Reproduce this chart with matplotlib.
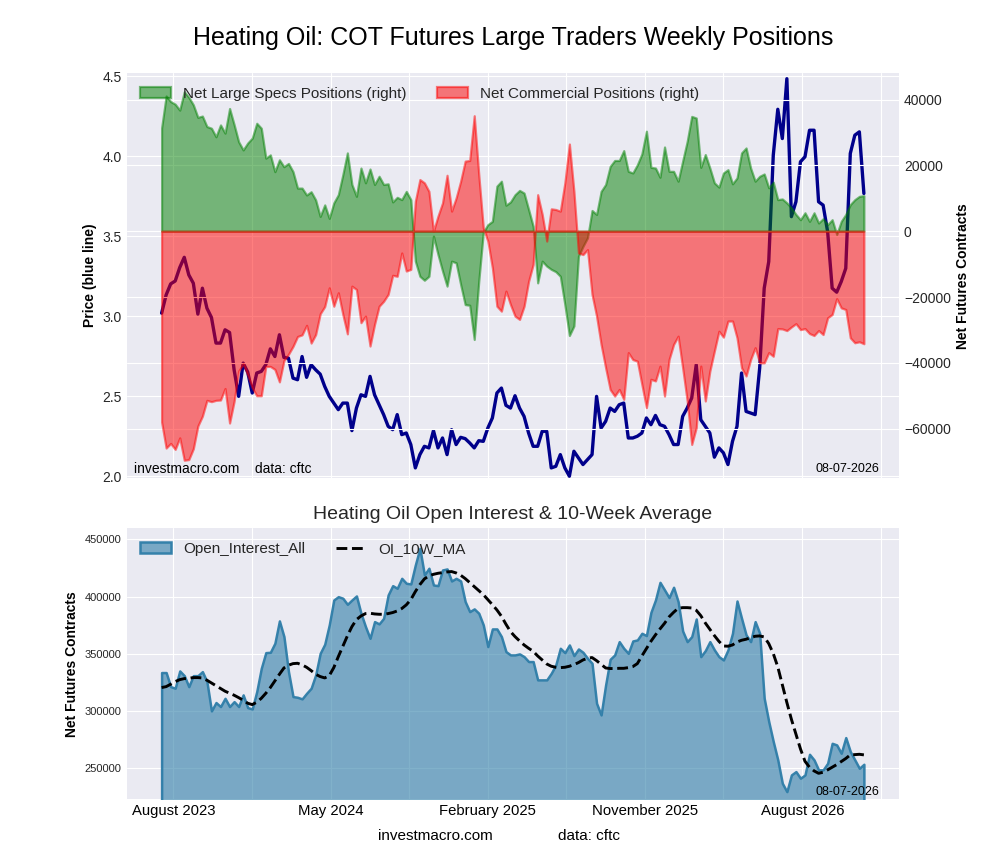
import matplotlib
matplotlib.use('Agg')
import matplotlib.pyplot as plt
import matplotlib.dates as mdates
from matplotlib.ticker import FixedLocator, FixedFormatter
import pandas as pd

# ---------------- data (weekly) ----------------
start_date = '2023-07-11'
n_weeks = 156

price = [
    3.020, 3.134, 3.203, 3.221, 3.305, 3.369, 3.259, 3.207, 3.014, 3.176,
    3.051, 2.993, 2.833, 2.833, 2.916, 2.899, 2.666, 2.500, 2.708, 2.652,
    2.521, 2.646, 2.656, 2.698, 2.797, 2.749, 2.885, 2.743, 2.739, 2.614,
    2.604, 2.749, 2.619, 2.698, 2.666, 2.639, 2.562, 2.500, 2.458, 2.417,
    2.458, 2.458, 2.286, 2.427, 2.510, 2.500, 2.625, 2.510, 2.448, 2.386,
    2.313, 2.292, 2.386, 2.261, 2.271, 2.199, 2.053, 2.136, 2.188, 2.178,
    2.286, 2.178, 2.240, 2.136, 2.292, 2.199, 2.244, 2.236, 2.209, 2.178,
    2.223, 2.219, 2.302, 2.365, 2.521, 2.552, 2.444, 2.427, 2.504, 2.427,
    2.375, 2.271, 2.188, 2.188, 2.282, 2.282, 2.053, 2.063, 2.136, 2.053,
    2.001, 2.157, 2.115, 2.074, 2.105, 2.136, 2.500, 2.302, 2.344, 2.427,
    2.406, 2.448, 2.458, 2.240, 2.240, 2.251, 2.271, 2.365, 2.323, 2.381,
    2.323, 2.313, 2.261, 2.199, 2.199, 2.375, 2.427, 2.490, 2.698, 2.354,
    2.313, 2.271, 2.120, 2.178, 2.147, 2.074, 2.219, 2.313, 2.646, 2.406,
    2.396, 2.386, 2.677, 3.176, 3.342, 4.007, 4.294, 4.111, 4.485, 3.623,
    3.716, 3.966, 3.997, 4.163, 4.163, 3.716, 3.695, 3.529, 3.176, 3.151,
    3.217, 3.300, 4.018, 4.132, 4.153, 3.768,
]

net_large_specs = [
    31400, 41100, 39400, 38600, 36800, 42400, 40700, 38400, 34600, 35000,
    31800, 31300, 28700, 32300, 29800, 37300, 32400, 27200, 24700, 26800,
    28300, 32800, 31300, 22200, 23200, 18100, 21700, 19600, 20600, 18100,
    13100, 13100, 11000, 12000, 9500, 4500, 8000, 3900, 8600, 11100,
    17200, 23800, 14200, 10600, 19200, 14700, 18900, 14200, 16700, 14200,
    14400, 8900, 10300, 9600, 12100, 9600, -9100, -13700, -14900, -13700,
    -1500, -7100, -12100, -16700, -9100, -9600, -16200, -22300, -22500, -32900,
    -15200, -300, 2000, 3000, 13700, 15200, 7900, 8900, 11100, 12400,
    11600, 6600, 1500, -15700, -9100, -10600, -11600, -12300, -13700, -22300,
    -31700, -28800, -7600, -4600, -2000, 6300, 5100, 12100, 14200, 19700,
    21500, 21500, 24500, 18200, 17700, 20200, 23500, 30400, 19400, 19200,
    16400, 25600, 18200, 18200, 15200, 21300, 27300, 34900, 34400, 19400,
    23300, 19200, 14700, 13400, 17700, 18700, 14400, 16200, 23800, 25300,
    19200, 15200, 16700, 17400, 13200, 14900, 9600, 9800, 8600, 7100,
    5100, 3500, 5600, 3000, 5600, 2500, 3800, 2000, 3500, -1000,
    3000, 5100, 8100, 9600, 10600, 10800,
]

net_commercial = [
    -58000, -65900, -64500, -66300, -62800, -69600, -69400, -66100, -59200, -56200,
    -51400, -51800, -51400, -51300, -47800, -58300, -51700, -42500, -40300, -43700,
    -47600, -50000, -50000, -41100, -41100, -42000, -45800, -39300, -37400, -35000,
    -32000, -31500, -28600, -34000, -31400, -25100, -22900, -17200, -22800, -18700,
    -25300, -31200, -16700, -17700, -27800, -25800, -34900, -28300, -22800, -21300,
    -19200, -13400, -13700, -6600, -12100, -11600, 9100, 15700, 14700, 12100,
    0, 4600, 8600, 17000, 6100, 10100, 15200, 21300, 21500, 35100,
    17200, 1000, -3000, -11100, -22800, -24300, -18200, -22300, -25800, -26800,
    -22800, -15200, -10100, 11100, 5100, -3000, 6800, 6600, 6100, 14700,
    26500, 12100, -6600, -7100, -5600, -19200, -25800, -34400, -41500, -48100,
    -50100, -48100, -51100, -36900, -39000, -39500, -46600, -53600, -45000, -45500,
    -41000, -50100, -39000, -34400, -31900, -41500, -51600, -64800, -59700, -41000,
    -51600, -42500, -36400, -30400, -32200, -27300, -27300, -32400, -41500, -44000,
    -39000, -35400, -40000, -40000, -36900, -38000, -29600, -29700, -30200, -29100,
    -28100, -29900, -29600, -31100, -31700, -30200, -31400, -26300, -25300, -20500,
    -23300, -23800, -32400, -33900, -33600, -34200,
]

open_interest = [
    333600, 333600, 321300, 319900, 335000, 330900, 321300, 330900, 330900, 334400,
    325700, 300100, 307400, 303900, 311100, 303900, 308200, 303900, 314100, 303000,
    301800, 317000, 337300, 351000, 351300, 359200, 378700, 365000, 334400, 312600,
    312000, 310600, 315500, 319900, 331500, 350400, 358300, 375200, 397000, 399900,
    398500, 393200, 397000, 400500, 385400, 373700, 363500, 378100, 376100, 381000,
    401400, 409500, 407200, 415900, 411600, 411000, 427600, 442100, 418900, 424700,
    410100, 409500, 423200, 424100, 413600, 415900, 413600, 395600, 386800, 389200,
    385400, 375200, 356300, 371700, 371700, 365000, 351900, 349000, 349000, 349900,
    347500, 343200, 343200, 327200, 327200, 327200, 333000, 340300, 354800, 351000,
    357700, 348400, 354200, 351300, 346100, 341700, 306800, 296600, 322800, 345200,
    349000, 360600, 354800, 350400, 361200, 362100, 367900, 365900, 386200, 397000,
    412400, 405800, 399100, 408100, 395600, 369900, 360600, 365000, 380400, 347500,
    352800, 360600, 353400, 347500, 344600, 353400, 367900, 396100, 381000, 366500,
    360600, 378100, 367900, 311100, 290800, 273300, 257300, 236900, 229600, 244200,
    247100, 241300, 244200, 262200, 257300, 248600, 248600, 254400, 271800, 270400,
    263100, 276800, 264600, 257300, 250000, 253500,
]

oi_10w_ma = [
    320500, 321300, 323400, 325700, 327400, 328300, 328600, 329200, 329200, 328900,
    326900, 324500, 322200, 319600, 317300, 315500, 313800, 311700, 309400, 306800,
    305600, 307700, 311100, 315500, 320500, 326300, 332100, 337600, 340000, 341400,
    341700, 340300, 338200, 335300, 332100, 330100, 328900, 330900, 337900, 347500,
    356600, 365600, 373700, 379800, 383000, 385100, 385400, 384800, 384500, 384500,
    385100, 386000, 387400, 389500, 392700, 397300, 404300, 410400, 415400, 418000,
    419400, 420300, 420900, 421500, 421800, 420600, 418600, 415700, 412200, 408700,
    405200, 401700, 397300, 392900, 388300, 382800, 375800, 369400, 365000, 361200,
    357700, 354800, 352200, 348100, 344600, 341100, 339100, 338200, 337900, 338200,
    339100, 340500, 342300, 344600, 346100, 346700, 344000, 340800, 337600, 337100,
    337100, 337300, 337300, 337900, 338800, 341400, 348100, 354500, 360900, 366500,
    371700, 376600, 382200, 386200, 389700, 390300, 390300, 390000, 388000, 383300,
    376900, 371400, 365900, 360900, 356800, 356600, 357700, 360300, 361800, 362700,
    364100, 365300, 365600, 364700, 358900, 350200, 338500, 322800, 307400, 292800,
    280000, 266900, 256100, 250900, 247700, 245600, 246500, 248600, 250900, 253200,
    255800, 258500, 261700, 261900, 262200, 261700,
]

tick_dates = ['2023-07-29', '2024-03-28', '2024-11-26', '2025-07-27', '2026-03-27']
tick_labels = ['August 2023', 'May 2024', 'February 2025', 'November 2025', 'August 2026']
grid_dates = ['2023-11-27', '2024-07-27', '2025-03-27', '2025-11-25', '2026-07-26']
stamp = '08-07-2026'

# ---------------- style ----------------
plt.style.use('seaborn-v0_8-darkgrid')
plt.rcParams['font.family'] = ['Liberation Sans', 'DejaVu Sans']

dates = pd.date_range(start_date, periods=n_weeks, freq='7D')

fig = plt.figure(figsize=(10, 8.6), dpi=100)

# ---------------- top chart ----------------
ax1 = fig.add_axes([0.1265, 0.4442, 0.7725, 0.4706])
ax1.plot(dates, price, color='darkblue', lw=2.4, solid_capstyle='round')
ax1.set_ylim(1.99, 4.519)
ax1.set_ylabel('Price (blue line)', fontsize=10, fontweight='bold', color='black')
ax1.tick_params(axis='y', labelsize=10)

ax2 = ax1.twinx()
ax2.fill_between(dates, net_large_specs, 0, color='green', alpha=0.5, lw=1.6,
                 label='Net Large Specs Positions (right)')
ax2.fill_between(dates, net_commercial, 0, color='red', alpha=0.5, lw=1.6,
                 label='Net Commercial Positions (right)')
ax2.set_ylim(-75000, 48000)
ax2.set_ylabel('Net Futures Contracts', fontsize=10, fontweight='bold', color='black')
ax2.tick_params(axis='y', labelsize=10)
ax2.legend(loc='upper left', ncol=2, fontsize=11, frameon=False)

ax1.text(0.01, 0.004, 'investmacro.com    data: cftc', transform=ax1.transAxes,
         ha='left', va='bottom', fontsize=10, color='black', zorder=10)
ax2.text(0.975, 0.008, stamp, transform=ax2.transAxes, ha='right', va='bottom',
         fontsize=9, color='black')

# ---------------- bottom chart ----------------
ax3 = fig.add_axes([0.1265, 0.0706, 0.7725, 0.3151], sharex=ax1)
oi_rgb = (0.18, 0.49, 0.66)
ax3.fill_between(dates, open_interest, 0, facecolor=oi_rgb + (0.6,),
                 edgecolor=oi_rgb + (0.95,), lw=1.8, label='Open_Interest_All')
ax3.plot(dates, oi_10w_ma, color='black', ls='--', lw=2.1, label='OI_10W_MA')
ax3.set_ylim(222900, 459600)
ax3.set_ylabel('Net Futures Contracts', fontsize=10, fontweight='bold', color='black')
ax3.tick_params(axis='y', labelsize=8)
ax3.tick_params(axis='x', labelsize=10.7, colors='black')
ax3.legend(loc='upper left', ncol=2, fontsize=11, frameon=False)
ax3.set_title('Heating Oil Open Interest & 10-Week Average', fontsize=14, pad=7)
ax3.text(0.975, 0.004, stamp, transform=ax3.transAxes, ha='right', va='bottom',
         fontsize=9, color='black')

ax3.xaxis.set_major_locator(FixedLocator(mdates.date2num(pd.to_datetime(tick_dates))))
ax3.xaxis.set_major_formatter(FixedFormatter(tick_labels))
ax3.xaxis.set_minor_locator(FixedLocator(mdates.date2num(pd.to_datetime(grid_dates))))
ax1.tick_params(axis='x', labelbottom=False)
for a in (ax1, ax3):
    a.grid(True, which='minor', axis='x')

fig.text(0.513, 1 - 38 / 860, 'Heating Oil: COT Futures Large Traders Weekly Positions',
         ha='center', va='center', fontsize=18, color='black')
fig.text(0.435, 1 - 836 / 860, 'investmacro.com', ha='center', va='center',
         fontsize=11, color='black')
fig.text(0.589, 1 - 836 / 860, 'data: cftc', ha='center', va='center',
         fontsize=11, color='black')

fig.savefig('out.png', dpi=100)
